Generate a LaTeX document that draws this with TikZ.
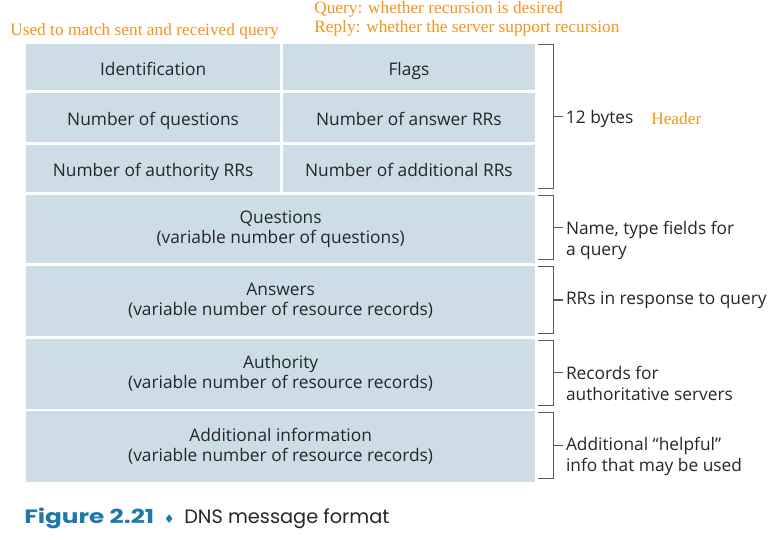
\documentclass[tikz,border=0pt]{standalone}
\usepackage{fontspec}
\setmainfont{Open Sans}
\newfontfamily\notefont{Liberation Serif}
\newfontfamily\capfont{Poppins}
\newfontfamily\symfont{DejaVu Sans}
\usetikzlibrary{arrows.meta, positioning, calc}
\definecolor{fieldblue}{HTML}{CCDDE7}
\definecolor{noteorange}{HTML}{F7941D}
\definecolor{capblue}{HTML}{1E78A8}
\definecolor{brackgray}{HTML}{5A5A5A}

\begin{document}
\begin{tikzpicture}[x=0.75pt, y=-0.75pt,
    field/.style={fill=fieldblue, anchor=north west, inner sep=0pt, align=center,
                  font=\fontsize{13}{15}\selectfont, text=black!85},
    hfield/.style={field, text height=16pt, text depth=3.5pt},
    brk/.style={draw=brackgray, line width=0.8pt},
    lab/.style={font=\fontsize{13}{15.5}\selectfont, inner sep=2pt, align=left, text=black!85},
    note/.style={font=\notefont\fontsize{13}{14}\selectfont, text=noteorange, inner sep=0pt, align=left}]

    \useasboundingbox (0,0) rectangle (770,539);

    % Header fields
    \node[hfield, minimum width=190.7pt, minimum height=35pt]    (id)    at (25.7,43.3)  {Identification};
    \node[hfield, minimum width=189.5pt, minimum height=35pt]    (flags) at (282.3,43.3) {Flags};
    \node[hfield, minimum width=190.7pt, minimum height=36.7pt]  (nq)    at (25.7,92.7)  {Number of questions};
    \node[hfield, minimum width=189.5pt, minimum height=36.7pt]  (nans)  at (282.3,92.7) {Number of answer RRs};
    \node[hfield, minimum width=190.7pt, minimum height=35.5pt]  (nauth) at (25.7,144.3) {Number of authority RRs};
    \node[hfield, minimum width=189.5pt, minimum height=35.5pt]  (naddr) at (282.3,144.3) {Number of additional RRs};

    % Body sections
    \node[field, minimum width=382pt, minimum height=51.3pt] (qst)  at (25.7,194.3) {Questions\\(variable number of questions)};
    \node[field, minimum width=382pt, minimum height=53pt]   (ans)  at (25.7,265.3) {Answers\\(variable number of resource records)};
    \node[field, minimum width=382pt, minimum height=52.2pt] (auth) at (25.7,338.7) {Authority\\(variable number of resource records)};
    \node[field, minimum width=382pt, minimum height=53pt]   (add)  at (25.7,411)   {Additional information\\(variable number of resource records)};

    % Brackets
    \foreach \t/\b/\n in {flags/naddr/hdr, qst/qst/qbr, ans/ans/abr, auth/auth/aubr, add/add/adbr} {
        \draw[brk] ($(\t.north east)+(2,1.5)$) -- ++(16,0) coordinate (\n a)
                   -- ($(\b.south east)+(18,-3.3)$) coordinate (\n b) -- ++(-16,0);
        \draw[brk] ($(\n a)!0.5!(\n b)$) -- ++(9.5,0) coordinate (\n tick);
    }

    % Labels
    \node[lab, anchor=west, yshift=-1.5pt] (hdrlab) at (hdrtick) {12 bytes};
    \node[note, right=11pt of hdrlab] (hdrnote) {Header};
    \node[lab, anchor=north west, yshift=7pt] (qlab)  at (qbrtick)  {Name, type fields for\\a query};
    \node[lab, anchor=west]                   (alab)  at (abrtick)  {RRs in response to query};
    \node[lab, anchor=north west, yshift=7pt] (aulab) at (aubrtick) {Records for\\authoritative servers};
    \node[lab, anchor=north west, yshift=8.5pt] (adlab) at (adbrtick) {Additional “helpful”\\info that may be used};

    % Notes on top
    \node[note, anchor=west] (idnote)   at (10,31) {Used to match sent and received query};
    \node[note, anchor=west] (flagnote) at (314,19)  {Query: whether recursion is desired\\Reply: whether the server support recursion};

    % Caption
    \node[anchor=west, inner sep=0pt, font=\capfont\fontsize{14.5}{16}\selectfont, text=black!85] (cap) at (24,518)
        {\textcolor{capblue}{\scalebox{1.28}[1]{\bfseries Figure 2.21}}\enspace{\symfont\color{capblue}\fontsize{9}{9}\selectfont ♦}\enspace DNS message format};

\end{tikzpicture}
\end{document}
